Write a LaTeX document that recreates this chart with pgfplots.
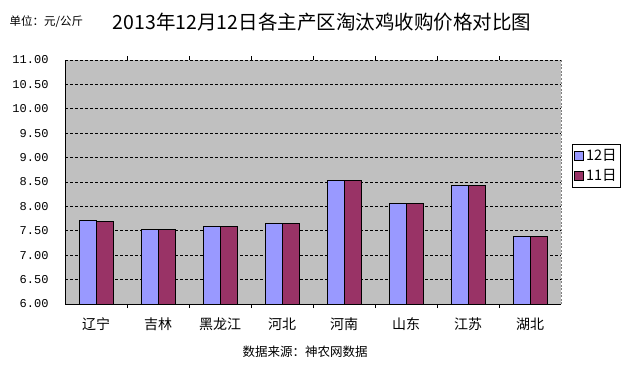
\documentclass[border=0pt]{standalone}
\usepackage{fontspec}
\setmainfont{Noto Sans CJK SC}
\newfontfamily\monofont{Liberation Mono}
\usepackage{pgfplots}
\pgfplotsset{compat=1.18}
\definecolor{cA}{HTML}{9999FF}
\definecolor{cB}{HTML}{993366}
\definecolor{bgc}{HTML}{C0C0C0}
\begin{document}
\begin{tikzpicture}[x=1bp,y=1bp]
\useasboundingbox (0,0) rectangle (630,364);
\begin{axis}[
  at={(65bp,60bp)}, anchor=south west,
  scale only axis, width=496bp, height=244bp,
  ymin=6, ymax=11,
  ytick={6,6.5,7,7.5,8,8.5,9,9.5,10,10.5,11},
  xmin=-0.5, xmax=7.5,
  xtick={0,1,2,3,4,5,6,7},
  xticklabels={辽宁,吉林,黑龙江,河北,河南,山东,江苏,湖北},
  minor xtick={0.5,1.5,2.5,3.5,4.5,5.5,6.5},
  major tick length=0pt,
  minor tick length=4bp,
  tick align=inside,
  minor x tick style={black, line width=0.8bp},
  axis line style={draw=none},
  axis background/.style={fill=bgc},
  ymajorgrids,
  major grid style={black, line width=0.8bp, dash pattern=on 3bp off 2bp},
  /pgf/number format/assume math mode=true,
  yticklabel style={/pgf/number format/fixed, /pgf/number format/fixed zerofill, /pgf/number format/precision=2, font=\monofont\fontsize{12bp}{13bp}\selectfont, xshift=-13bp},
  xticklabel style={font=\fontsize{14bp}{15bp}\selectfont, yshift=-10bp},
  ybar=0pt, bar width=17bp,
  legend style={at={(1.022,0.655)}, anchor=north west, draw=black, line width=0.8bp, fill=white,
    font=\fontsize{14.5bp}{16bp}\selectfont, inner xsep=2bp, inner ysep=3bp, row sep=3bp},
  legend cell align=left,
  legend image code/.code={\draw[#1, draw=black, line width=0.8bp] (0bp,-4.5bp) rectangle (9bp,4.5bp);},
  clip=false,
]
\addplot[fill=cA, draw=black, line width=1bp] coordinates {(0,7.72) (1,7.53) (2,7.59) (3,7.65) (4,8.53) (5,8.06) (6,8.42) (7,7.39)};
\addplot[fill=cB, draw=black, line width=1bp] coordinates {(0,7.70) (1,7.53) (2,7.59) (3,7.65) (4,8.53) (5,8.06) (6,8.42) (7,7.39)};
\legend{12日,11日}
\draw[black, line width=1bp] (rel axis cs:0,0) -- (rel axis cs:0,1);
\draw[black, line width=1bp] (rel axis cs:0,0) -- (rel axis cs:1,0);
\draw[gray, line width=0.8bp, dash pattern=on 2bp off 1.5bp] (rel axis cs:1,0) -- (rel axis cs:1,1);
\end{axis}
\node[anchor=west, font=\fontsize{11.5bp}{12bp}\selectfont] at (6,342) {单位：元/公斤};
\node[font=\fontsize{19.5bp}{21bp}\selectfont] at (322,342) {2013年12月12日各主产区淘汰鸡收购价格对比图};
\node[font=\fontsize{12.5bp}{14bp}\selectfont] at (305,12) {数据来源：神农网数据};
\end{tikzpicture}
\end{document}
